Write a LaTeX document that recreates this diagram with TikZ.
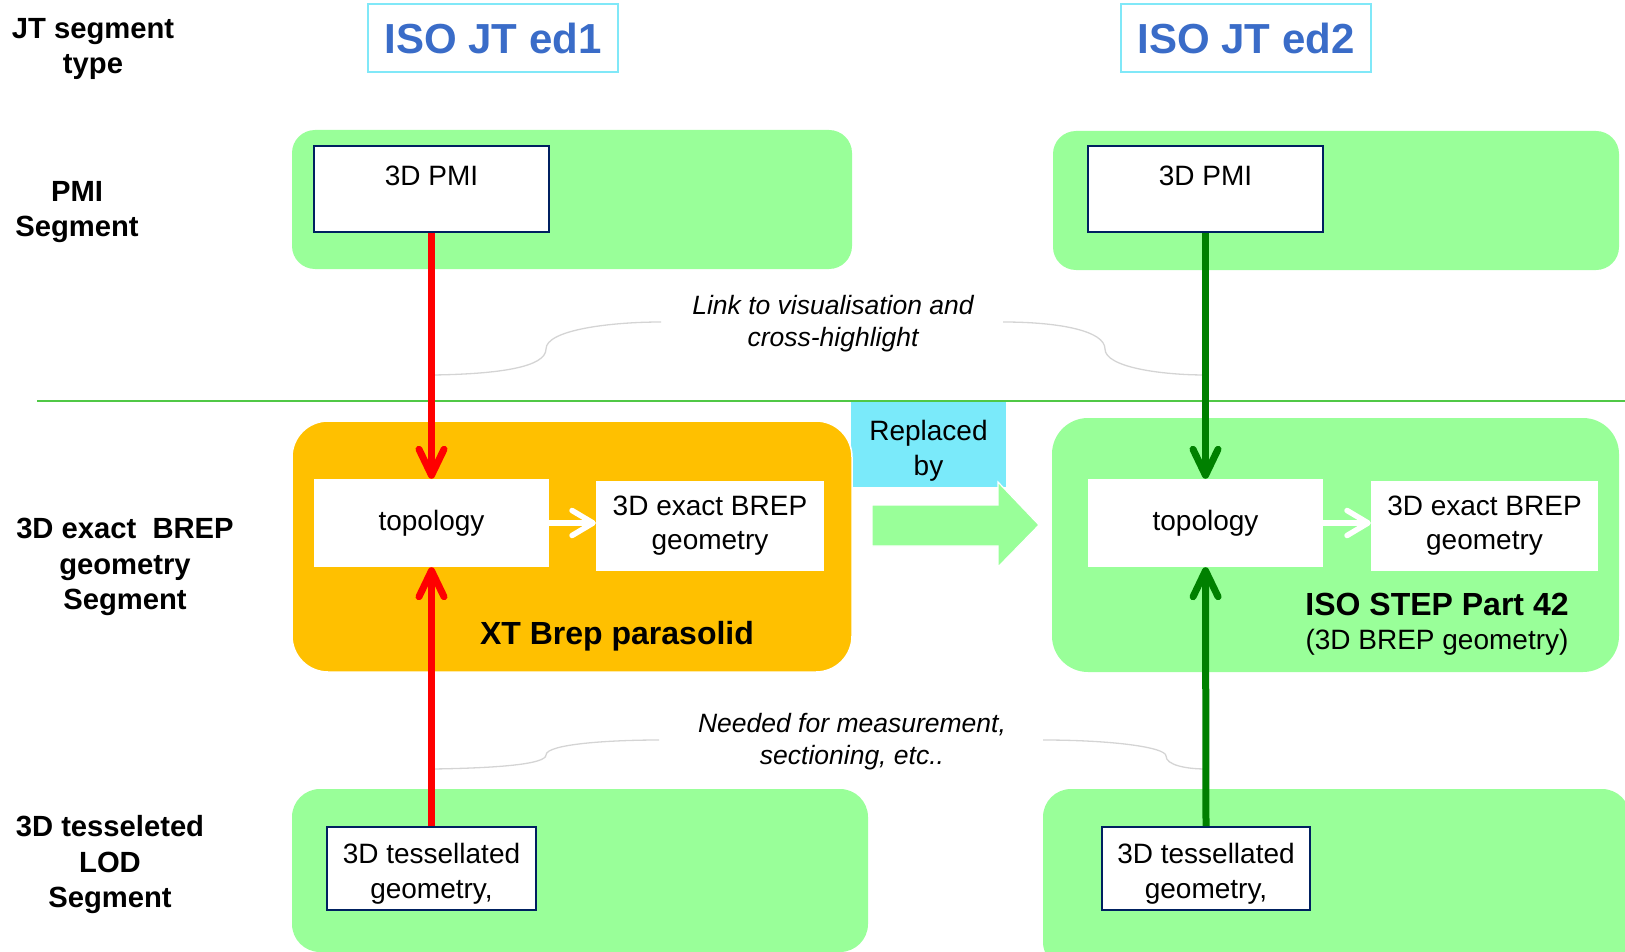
\documentclass[tikz,border=0pt]{standalone}
\usepackage{fontspec}
\setmainfont{Liberation Sans}
\usetikzlibrary{arrows.meta}
\definecolor{lgreen}{RGB}{153,255,153}
\definecolor{orng}{RGB}{255,192,0}
\definecolor{cyanbx}{RGB}{122,234,250}
\definecolor{cyanbd}{RGB}{128,232,248}
\definecolor{bluetxt}{RGB}{58,108,200}
\definecolor{navy}{RGB}{0,32,96}
\definecolor{linegreen}{RGB}{80,200,70}
\definecolor{dgreen}{RGB}{0,128,0}
\definecolor{curvegray}{RGB}{212,212,212}
\newcommand\myfs[2]{\fontsize{#1pt}{#2pt}\selectfont}
\begin{document}
\begin{tikzpicture}[x=1pt,y=-1pt,
  seglabel/.style={align=center, font=\myfs{29.2}{35.5}\bfseries, inner sep=0},
  edbox/.style={draw=cyanbd, line width=2pt, fill=white, minimum width=250pt, minimum height=68pt, font=\myfs{42}{50}\bfseries, text=bluetxt, inner sep=0},
  panel/.style={rectangle, fill=lgreen, rounded corners=23pt, inner sep=0},
  navybox/.style={rectangle, draw=navy, line width=2pt, fill=white, inner sep=0},
  whitebox/.style={rectangle, fill=white, inner sep=0, align=center, font=\myfs{28}{34}},
  txt/.style={align=center, font=\myfs{28}{34.5}, inner sep=0},
  note/.style={align=center, font=\myfs{26.5}{32}\itshape, inner sep=0},
  bigtitle/.style={font=\myfs{32}{38}\bfseries, inner sep=0},
  redarr/.style={red, line width=7pt, -{Straight Barb[length=26pt, width=25pt, round]}},
  grnarr/.style={dgreen, line width=7pt, -{Straight Barb[length=26pt, width=25pt, round]}},
  whitearr/.style={white, line width=5.5pt, -{Straight Barb[length=21pt, width=25pt, round]}},
  gcurve/.style={curvegray, line width=1.3pt},
]
\useasboundingbox (0,0) rectangle (1625,952);
\clip (0,0) rectangle (1625,952);

% left labels
\node[seglabel] (lblJT) at (93,49) {JT segment\\type};
\node[seglabel] (lblPMI) at (77,212) {PMI\\Segment};
\node[seglabel] (lblBREP) at (125,567) {3D exact\ \ BREP\\geometry\\Segment};
\node[seglabel] (lblLOD) at (110,865) {3D tesseleted\\LOD\\Segment};

% edition headers
\node[edbox] (ed1) at (493,38) {ISO JT ed1};
\node[edbox] (ed2) at (1246,38) {ISO JT ed2};

% panels
\node[panel, minimum width=560pt, minimum height=139pt] (pmiPL) at (572,199.5) {};
\node[panel, minimum width=566pt, minimum height=139pt] (pmiPR) at (1336,200.5) {};
\node[panel, minimum width=576pt, minimum height=163pt, rounded corners=28pt] (lodPL) at (580,870.5) {};
\node[panel, minimum width=587pt, minimum height=181pt, rounded corners=28pt] (lodPR) at (1336.5,879.5) {};

% separator line
\coordinate (sepA) at (37,401);
\coordinate (sepB) at (1625,401);
\draw[linegreen, line width=2pt] (sepA) -- (sepB);

% replaced by
\node[rectangle, fill=cyanbx, minimum width=155pt, minimum height=85pt, inner sep=0] (repl) at (928.5,444.5) {};
\node[txt, font=\myfs{28}{35}] (repltxt) at (928.5,451) {Replaced\\by};

% middle panels
\node[rectangle, fill=orng, draw=white, line width=1.5pt, rounded corners=36pt, minimum width=560pt, minimum height=251pt, inner sep=0] (xtP) at (572,546.5) {};
\node[panel, minimum width=567pt, minimum height=254pt, rounded corners=36pt] (stepP) at (1335.5,545) {};

% big block arrow
\fill[lgreen, draw=white, line width=1.2pt] (872,505) -- (998,505) -- (998,482) -- (1039,525) -- (998,567) -- (998,546) -- (872,546) -- cycle;

% boxes
\node[navybox, minimum width=235pt, minimum height=86pt] (pmiL) at (431.5,189) {};
\node[txt, anchor=base] (pmiLt) at (431.5,186) {3D PMI};
\node[navybox, minimum width=235pt, minimum height=86pt] (pmiR) at (1205.5,189) {};
\node[txt, anchor=base] (pmiRt) at (1205.5,186) {3D PMI};

\node[whitebox, minimum width=235pt, minimum height=88pt] (topoL) at (431.5,523) {topology};
\node[whitebox, minimum width=228pt, minimum height=90pt] (brepL) at (710,526) {3D exact BREP\\geometry};
\node[whitebox, minimum width=235pt, minimum height=88pt] (topoR) at (1205.5,523) {topology};
\node[whitebox, minimum width=227pt, minimum height=90pt] (brepR) at (1484.5,526) {3D exact BREP\\geometry};

\node[navybox, minimum width=209pt, minimum height=83pt] (tessL) at (431.5,868.5) {};
\node[txt] (tessLt) at (431.5,874) {3D tessellated\\geometry,};
\node[navybox, minimum width=208pt, minimum height=83pt] (tessR) at (1206,868.5) {};
\node[txt] (tessRt) at (1206,874) {3D tessellated\\geometry,};

% titles
\node[bigtitle] (xt) at (617,636) {XT Brep parasolid};
\node[bigtitle] (step) at (1437,604) {ISO STEP Part 42};
\node[txt] (stepsub) at (1437,642) {(3D BREP geometry)};

% notes
\node[note] (note1) at (833,323.5) {Link to visualisation and\\cross-highlight};
\node[note] (note2) at (852,742) {Needed for measurement,\\sectioning, etc..};

% callout curves
\coordinate (c1s) at (433,375);
\coordinate (c1e) at (661,322);
\coordinate (c2s) at (1003,322);
\coordinate (c2e) at (1206,375);
\coordinate (c3s) at (433,769);
\coordinate (c3e) at (659,740);
\coordinate (c4s) at (1043,740);
\coordinate (c4e) at (1206,769);
\draw[gcurve] (c1s) .. controls (500,374) and (546,367) .. (546,349) .. controls (546,330) and (610,322) .. (c1e);
\draw[gcurve] (c2s) .. controls (1060,322) and (1105,331) .. (1105,349) .. controls (1105,367) and (1160,375) .. (c2e);
\draw[gcurve] (c3s) .. controls (500,768) and (546,764) .. (546,755) .. controls (546,744) and (610,740) .. (c3e);
\draw[gcurve] (c4s) .. controls (1110,740) and (1166,747) .. (1166,756) .. controls (1166,765) and (1186,769) .. (c4e);

% arrows
\draw[redarr] (pmiL.south) -- (topoL.north);
\draw[redarr] (tessL.north) -- (topoL.south);
\draw[grnarr] (pmiR.south) -- (topoR.north);
\draw[grnarr] (tessR.north) -- (topoR.south);
\draw[whitearr] (topoL.east) -- (topoL.east -| brepL.west);
\draw[whitearr] (topoR.east) -- (topoR.east -| brepR.west);
\end{tikzpicture}
\end{document}
